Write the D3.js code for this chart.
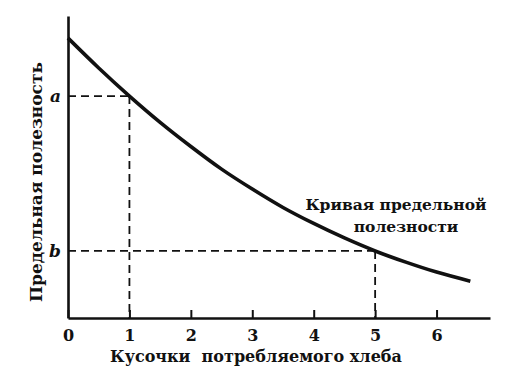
<!DOCTYPE html>
<html>
<head>
<meta charset="utf-8">
<script src="https://cdn.jsdelivr.net/npm/d3@7"></script>
<style>
  body { margin: 0; background: #fff; }
  svg { display: block; }
  text { font-family: "DejaVu Serif", serif; font-weight: bold; fill: #111; }
</style>
</head>
<body>
<div id="chart"></div>
<script>
// pieces of bread consumed vs marginal utility (arbitrary units)
const pieces = [0, 0.5, 1, 1.5, 2, 2.5, 3, 3.5, 4, 4.5, 5, 5.5, 6, 6.55];
const utility = [9.27, 8.28, 7.35, 6.48, 5.68, 4.93, 4.27, 3.66, 3.13, 2.65, 2.22, 1.85, 1.52, 1.22];
const xTicks = [0, 1, 2, 3, 4, 5, 6];
const marked = [{x: 1, label: 'a'}, {x: 5, label: 'b'}];

const width = 506, height = 374;
const margin = {left: 68, right: 16, top: 16, bottom: 56};
const ink = '#111';

const svg = d3.select('#chart').append('svg')
  .attr('width', width)
  .attr('height', height);

const x = d3.scaleLinear()
  .domain([0, 6.87])
  .range([margin.left, width - margin.right]);

const y = d3.scaleLinear()
  .domain([0, 10])
  .range([height - margin.bottom, margin.top]);

const points = pieces.map((p, i) => ({x: p, y: utility[i]}));
const valueAt = px => utility[pieces.indexOf(px)];

// dashed guides for a and b
const guides = svg.append('g')
  .attr('fill', 'none')
  .attr('stroke', ink)
  .attr('stroke-width', 1.8)
  .attr('stroke-dasharray', '8,5');

marked.forEach(m => {
  const v = valueAt(m.x);
  guides.append('line')
    .attr('x1', x(0)).attr('x2', x(m.x))
    .attr('y1', y(v)).attr('y2', y(v));
  guides.append('line')
    .attr('x1', x(m.x)).attr('x2', x(m.x))
    .attr('y1', y(v)).attr('y2', y(0));
});

// axes
const axisBottom = d3.axisBottom(x)
  .tickValues(xTicks)
  .tickSize(-8)
  .tickSizeOuter(0)
  .tickPadding(12)
  .tickFormat(d3.format('d'));

const gx = svg.append('g')
  .attr('transform', `translate(0,${y(0)})`)
  .call(axisBottom);
gx.select('.domain').attr('stroke', ink).attr('stroke-width', 2.6);
gx.selectAll('.tick line').attr('stroke', ink).attr('stroke-width', 2);
gx.selectAll('.tick text')
  .attr('font-size', 16)
  .attr('font-family', '"DejaVu Serif", serif')
  .attr('font-weight', 'bold')
  .attr('fill', ink);

const axisLeft = d3.axisLeft(y)
  .tickValues(marked.map(m => valueAt(m.x)))
  .tickSize(0)
  .tickSizeOuter(0)
  .tickPadding(7)
  .tickFormat((d, i) => marked[i].label);

const gy = svg.append('g')
  .attr('transform', `translate(${x(0)},0)`)
  .call(axisLeft);
gy.select('.domain').attr('stroke', ink).attr('stroke-width', 2.6);
gy.selectAll('.tick text')
  .attr('font-size', 17)
  .attr('font-family', '"DejaVu Serif", serif')
  .attr('font-style', 'italic')
  .attr('font-weight', 'bold')
  .attr('fill', ink);

// marginal utility curve
const line = d3.line()
  .x(d => x(d.x))
  .y(d => y(d.y))
  .curve(d3.curveMonotoneX);

svg.append('path')
  .datum(points)
  .attr('fill', 'none')
  .attr('stroke', ink)
  .attr('stroke-width', 3.6)
  .attr('stroke-linecap', 'butt')
  .attr('d', line);

// labels
svg.append('text')
  .attr('x', 256)
  .attr('y', 362)
  .attr('text-anchor', 'middle')
  .attr('font-size', 16)
  .attr('xml:space', 'preserve')
  .text('Кусочки  потребляемого хлеба');

svg.append('text')
  .attr('transform', `translate(42,182) rotate(-90)`)
  .attr('text-anchor', 'middle')
  .attr('font-size', 17)
  .text('Предельная полезность');

const curveLabel = svg.append('text')
  .attr('text-anchor', 'middle')
  .attr('font-size', 15.5);
curveLabel.append('tspan').attr('x', 396).attr('y', 210).text('Кривая предельной');
curveLabel.append('tspan').attr('x', 406).attr('y', 232).text('полезности');
</script>
</body>
</html>
